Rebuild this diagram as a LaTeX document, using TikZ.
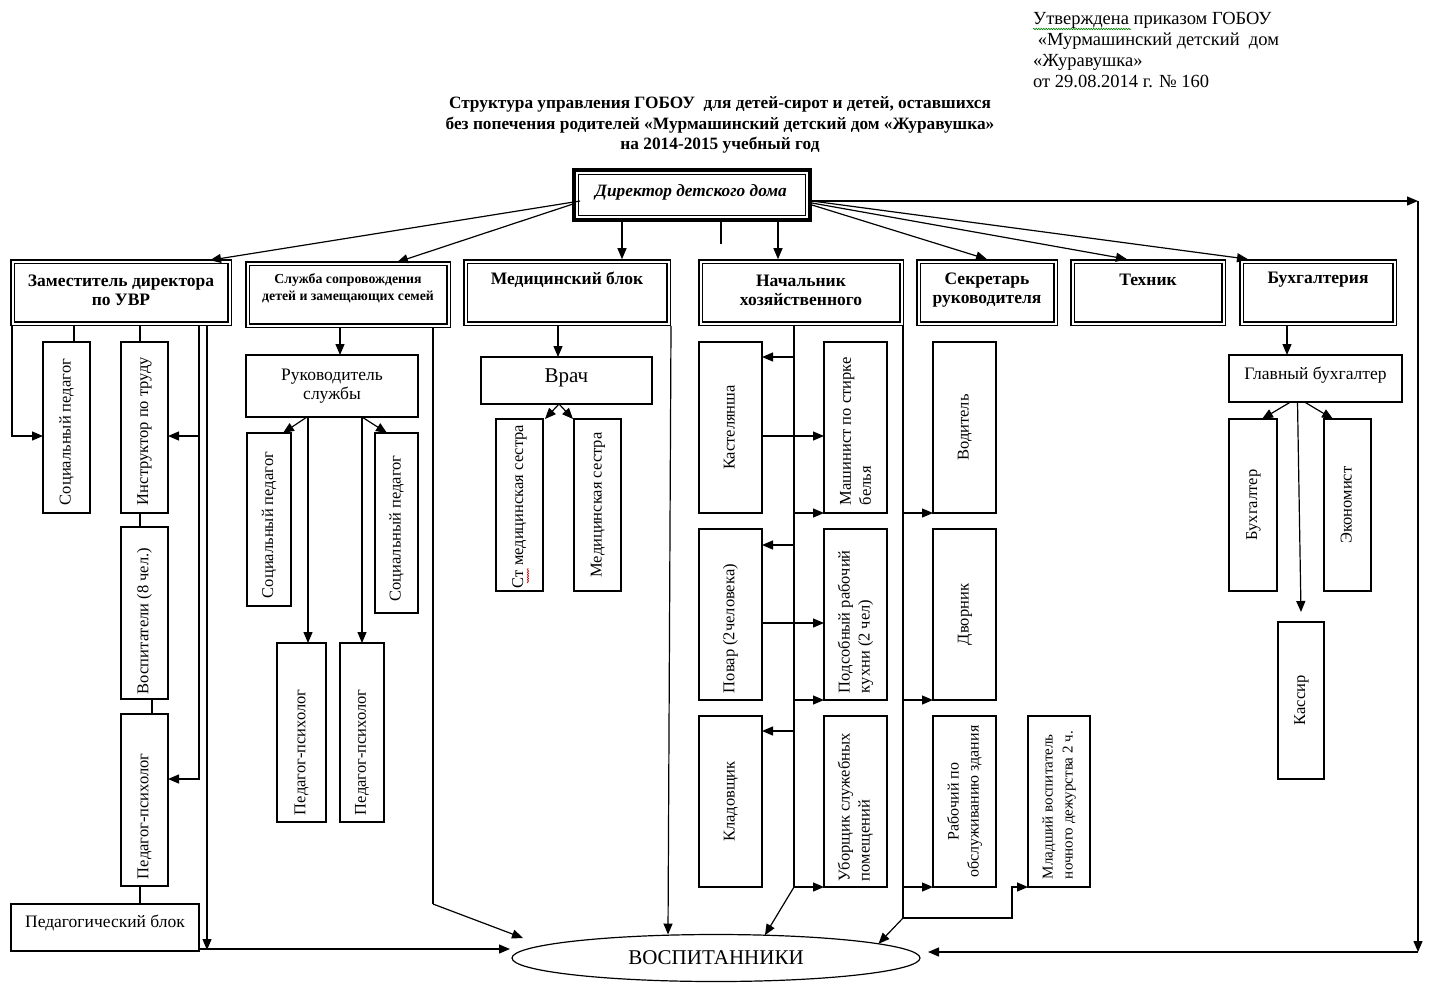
\documentclass[tikz,border=0pt]{standalone}
\usepackage{fontspec}
\setmainfont{Liberation Serif}
\usepackage{graphicx}
\usetikzlibrary{arrows.meta,shapes.geometric,fit,calc,decorations.pathmorphing}
\newcommand{\vleft}[2]{\rotatebox{90}{\parbox{#1pt}{\raggedright #2}}}
\newcommand{\vcent}[1]{\rotatebox{90}{\begin{tabular}{@{}c@{}}#1\end{tabular}}}
\tikzset{
  ln/.style={line width=1.2pt},
  arr/.style={line width=1.2pt,-{Triangle[length=11pt,width=9pt]}},
  bxr/.style={draw,line width=1.2pt,inner sep=0pt,outer sep=0pt,
     font=\fontsize{16.5}{20}\selectfont},
  bx/.style={bxr,align=center},
  rect/.style n args={4}{minimum width={#3-#1}, minimum height={#4-#2},
     at={({(#1+#3)/2},{(#2+#4)/2})}},
  hdr/.style={draw,double,double distance=2pt,line width=1.3pt,inner sep=0pt,outer sep=2.3pt},
  htxt/.style={inner sep=0pt,align=center,font=\fontsize{17.5}{19}\selectfont\bfseries},
  squig/.style={line width=0.6pt,decorate,decoration={snake,amplitude=0.7pt,segment length=2.5pt}},
}
\begin{document}
\begin{tikzpicture}[x=1pt,y=-1pt]
\fill[white] (0,0) rectangle (1431,994);
\useasboundingbox (0,0) rectangle (1431,994);

% approval text
\node[anchor=north west,inner sep=0pt,align=left,font=\fontsize{18.5}{21}\selectfont] (appr) at (1033,12.5)
 {Утверждена приказом ГОБОУ\\\ «Мурмашинский детский\ \ дом\\«Журавушка»\\от 29.08.2014 г. № 160};
\draw[squig,green!50!black] ([shift={(0,16.5)}]appr.north west) -- ++(98,0);

% title
\node[inner sep=0pt,align=center,font=\fontsize{17.3}{20.5}\selectfont\bfseries] (title) at (720,125)
 {Структура управления ГОБОУ \ для детей-сирот и детей, оставшихся\\без попечения родителей «Мурмашинский детский дом «Журавушка»\\на 2014-2015 учебный год};

% director
\node[draw,line width=1.2pt,inner sep=0pt,outer sep=6.5pt,fit={(578.5,174.5)(805.5,215.5)}] (dir) {};
\draw[line width=4pt] ([shift={(2,2)}]dir.north west) rectangle ([shift={(-2,-2)}]dir.south east);
\node[inner sep=0pt,font=\fontsize{17.3}{20}\selectfont\bfseries\itshape] (dirT) at (691,192) {Директор детского дома};

% headers
\node[hdr,fit={(12.5,261.5)(229.5,323.5)}] (zam) {};
\node[hdr,fit={(247.5,263.5)(448.5,325.5)}] (sl) {};
\node[hdr,fit={(465.5,261.5)(668.5,323.5)}] (med) {};
\node[hdr,fit={(700.5,261.5)(901.5,323.5)}] (nach) {};
\node[hdr,fit={(918.5,261.5)(1055.5,323.5)}] (sec) {};
\node[hdr,fit={(1072.5,261.5)(1223.5,323.5)}] (tech) {};
\node[hdr,fit={(1241.5,261.5)(1394.5,323.5)}] (buh) {};
\node[htxt] (zamT) at (121,290.5) {Заместитель директора\\по УВР};
\node[htxt,font=\fontsize{13.8}{17}\selectfont\bfseries] (slT) at (348,288.5) {Служба сопровождения\\детей и замещающих семей};
\node[htxt] (medT) at (567,280) {Медицинский блок};
\node[htxt] (nachT) at (801,290.5) {Начальник\\хозяйственного};
\node[htxt] (secT) at (987,290.5) {Секретарь\\руководителя};
\node[htxt] (techT) at (1148,280) {Техник};
\node[htxt] (buhT) at (1318,280) {Бухгалтерия};

% Zam column
\node[bxr,rect={43}{342}{90}{513}] (sp1) {\vleft{155}{Социальный педагог}};
\node[bxr,rect={121}{342}{168}{513}] (instr) {\vleft{155}{Инструктор по труду}};
\node[bxr,rect={121}{527}{168}{699}] (vosp8) {\vleft{162}{Воспитатели (8 чел.)}};
\node[bxr,rect={121}{714}{168}{886}] (pp1) {\vleft{158}{Педагог-психолог}};
\node[bxr,rect={11}{904}{199}{951},text depth=12pt,font=\fontsize{17.5}{20}\selectfont] (pedblok) {Педагогический блок};

% Sluzhba column
\node[bx,rect={246}{355}{418}{417},font=\fontsize{17.5}{19}\selectfont] (ruk) {Руководитель\\службы};
\node[bxr,rect={247}{433}{291}{606}] (slsp1) {\vleft{157}{Социальный педагог}};
\node[bxr,rect={375}{433}{418}{613}] (slsp2) {\vleft{157}{Социальный педагог}};
\node[bxr,rect={277}{643}{326}{822}] (pp2) {\vleft{165}{Педагог-психолог}};
\node[bxr,rect={340}{643}{384}{822}] (pp3) {\vleft{165}{Педагог-психолог}};

% Med column
\node[bxr,rect={481}{357}{652}{404},font=\fontsize{21}{24}\selectfont,text depth=9pt] (vrach) {Врач};
\node[bxr,rect={496}{419}{543}{591}] (stmed) {\vleft{166}{Ст медицинская сестра}};
\draw[squig,red!80!black] ([shift={(8.5,-8)}]stmed.south) -- ++(0,-15);
\node[bxr,rect={574}{419}{621}{591}] (medsis) {\vcent{Медицинская сестра}};

% Nach column
\node[bxr,rect={699}{342}{762}{513}] (kast) {\vcent{Кастелянша}};
\node[bxr,rect={824}{342}{887}{513}] (mash) {\vleft{155}{Машинист по стирке\\белья}};
\node[bxr,rect={699}{529}{762}{700}] (povar) {\vleft{157}{Повар (2человека)}};
\node[bxr,rect={824}{529}{887}{700}] (podsob) {\vleft{157}{Подсобный рабочий\\кухни (2 чел)}};
\node[bxr,rect={699}{716}{762}{887}] (klad) {\vcent{Кладовщик}};
\node[bxr,rect={824}{716}{887}{887}] (ubor) {\vleft{159}{Уборщик служебных\\помещений}};

% Sec column
\node[bxr,rect={933}{342}{996}{513}] (vodit) {\vcent{Водитель}};
\node[bxr,rect={933}{529}{996}{700}] (dvor) {\vcent{Дворник}};
\node[bxr,rect={933}{716}{996}{887},font=\fontsize{16}{20}\selectfont] (rabo) {\vcent{Рабочий по\\обслуживанию здания}};
\node[bxr,rect={1028}{716}{1090}{887},font=\fontsize{15}{20}\selectfont] (mlad) {\vleft{155}{Младший воспитатель\\ночного дежурства 2 ч.}};

% Buh column
\node[bxr,rect={1229}{355}{1402}{402},text depth=10pt,font=\fontsize{17.5}{20}\selectfont] (glbuh) {Главный бухгалтер};
\node[bxr,rect={1229}{419}{1277}{591}] (buhg) {\vcent{Бухгалтер}};
\node[bxr,rect={1324}{419}{1371}{591}] (econ) {\vcent{Экономист}};
\node[bxr,rect={1278}{622}{1324}{779}] (kass) {\vcent{Кассир}};

% pupils
\node[draw,ellipse,line width=1.2pt,minimum width=408pt,minimum height=47pt,inner sep=0pt,outer sep=0pt,
  font=\fontsize{21}{24}\selectfont] (vosp) at (716,958) {ВОСПИТАННИКИ};

% director connectors
\draw[arr] ([shift={(8,6)}]dir.west) -- ([shift={(89,1)}]zam.north);
\draw[arr] ([shift={(1,9)}]dir.west) -- ([shift={(49,1)}]sl.north);
\coordinate (dm) at ([shift={(-70,0)}]dir.south);
\draw[arr] (dm) -- (dm |- med.north);
\draw[ln] ([shift={(29,0)}]dir.south) -- ++(0,22);
\coordinate (dn) at ([shift={(86,0)}]dir.south);
\draw[arr] (dn) -- (dn |- nach.north);
\draw[arr] ([shift={(0,10)}]dir.east) -- (sec.north);
\draw[arr] ([shift={(0,8)}]dir.east) -- ([shift={(-21,0)}]tech.north);
\draw[arr] ([shift={(0,6)}]dir.east) -- ([shift={(-70,0)}]buh.north);
\coordinate (rc) at (1418,201);
\coordinate (rb) at (1418,952);
\draw[arr] ([shift={(0,6)}]dir.east) -- (rc);
\draw[arr] (rc) -- (rb);
\draw[arr] (rb) -- ([shift={(8,-6)}]vosp.east);

% zam connectors
\coordinate (zl) at (12,436);
\draw[arr] (zl |- zam.south) -- (zl) -- (zl -| sp1.west);
\draw[ln] ([xshift=7.5pt]sp1.north) -- ++(0,-16);
\draw[ln] ([xshift=-4.5pt]instr.north) -- ++(0,-16);
\draw[ln] ([xshift=-4.5pt]instr.south) -- ([xshift=-4.5pt]vosp8.north);
\draw[ln] ([xshift=7.5pt]vosp8.south) -- ([xshift=7.5pt]pp1.north);
\draw[ln] ([xshift=-4.5pt]pp1.south) -- ++(0,18);
\coordinate (zb1) at (199,436);
\coordinate (zb2) at (199,779);
\draw[ln] (zb1 |- zam.south) -- (zb1);
\draw[arr] (zb1) -- (zb1 -| instr.east);
\draw[arr] (zb1) -- (zb2) -- (zb2 -| pp1.east);
\coordinate (zb3) at (207,950);
\draw[arr] (zb3 |- zam.south) -- (zb3);
\draw[arr] ([shift={(0,21.5)}]pedblok.east) -- ([shift={(-2,-9)}]vosp.west);

% sluzhba connectors
\draw[arr] ([xshift=-8pt]sl.south) -- ([xshift=8pt]ruk.north);
\draw[arr] ([xshift=-25pt]ruk.south) -- ([xshift=14pt]slsp1.north);
\draw[arr] ([xshift=-24pt]ruk.south) -- ([xshift=6.5pt]pp2.north);
\draw[arr] ([xshift=30pt]ruk.south) -- ([xshift=-9.5pt]slsp2.north);
\draw[arr] ([xshift=30pt]ruk.south) -- (pp3.north);
\coordinate (sbus) at (433,904);
\draw[ln] (sbus |- sl.south) -- (sbus);
\draw[arr] (sbus) -- ([shift={(11,-20)}]vosp.west);

% med connectors
\draw[arr] ([xshift=-9pt]med.south) -- ([xshift=-8.5pt]vrach.north);
\draw[arr] ([xshift=-7.5pt]vrach.south) -- ([xshift=25.5pt]stmed.north);
\draw[arr] ([xshift=-7.5pt]vrach.south) -- ([xshift=-24.5pt]medsis.north);
\draw[arr] ([xshift=104pt]med.south) -- ([xshift=-48pt]vosp.north);

% nach connectors
\coordinate (nb) at (794,887);
\draw[ln] (nb |- nach.south) -- (nb);
\draw[arr] ([shift={(32,15)}]kast.north east) -- ([shift={(0,15)}]kast.north east);
\draw[arr] ([shift={(32,16)}]povar.north east) -- ([shift={(0,16)}]povar.north east);
\draw[arr] ([shift={(32,15)}]klad.north east) -- ([shift={(0,15)}]klad.north east);
\draw[arr] ([shift={(0,8.5)}]kast.east) -- ([shift={(0,8.5)}]mash.west);
\draw[arr] ([shift={(0,8.5)}]povar.east) -- ([shift={(0,8.5)}]podsob.west);
\draw[arr] (nb |- mash.south west) -- (mash.south west);
\draw[arr] (nb |- podsob.south west) -- (podsob.south west);
\draw[arr] (nb) -- (ubor.south west);
\draw[arr] (nb) -- (vosp.25);

% sec connectors
\coordinate (cb) at (903,918);
\draw[ln] (cb |- nach.south) -- (cb);
\draw[arr] (cb |- vodit.south west) -- (vodit.south west);
\draw[arr] (cb |- dvor.south west) -- (dvor.south west);
\draw[arr] (cb |- rabo.south west) -- (rabo.south west);
\draw[arr] (cb) -- (vosp.5);
\coordinate (cs) at (1012,918);
\draw[arr] (cb) -- (cs) -- (cs |- mlad.south west) -- (mlad.south west);

% buh connectors
\draw[arr] ([xshift=-31pt]buh.south) -- ([xshift=-28.5pt]glbuh.north);
\draw[arr] ([xshift=-25pt]glbuh.south) -- ([xshift=9pt]buhg.north);
\draw[arr] ([xshift=-11pt]glbuh.south) -- ([xshift=-14.5pt]econ.north);
\draw[arr] ([xshift=-18pt]glbuh.south) -- ([shift={(0,-10)}]kass.north);
\end{tikzpicture}
\end{document}
